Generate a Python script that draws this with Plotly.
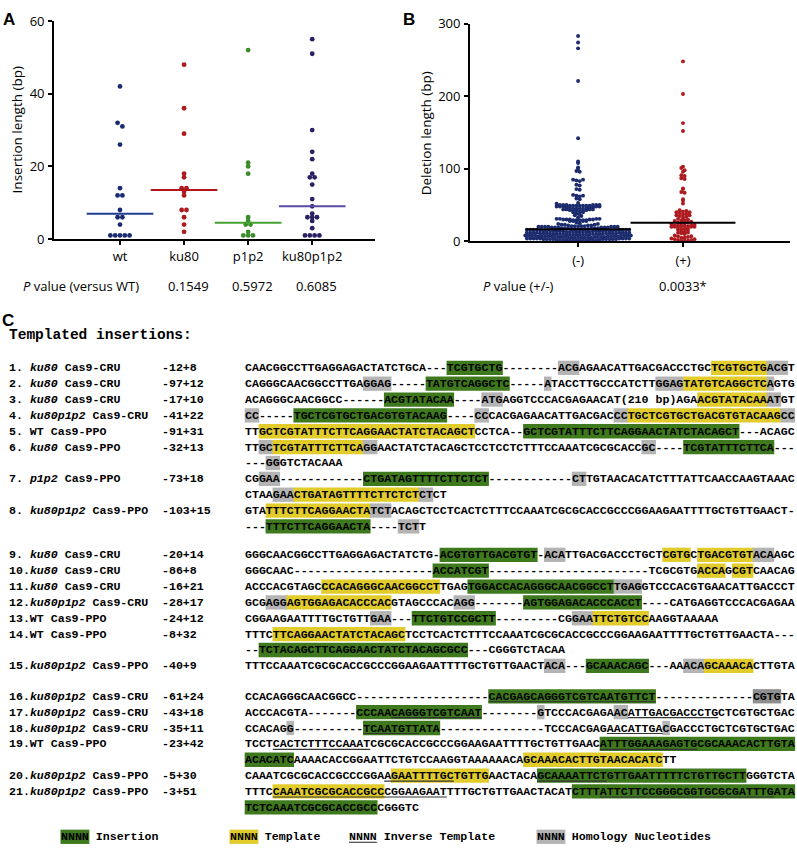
import numpy as np
import plotly.graph_objects as go

W, H = 797, 859

# ---------------- Panel A data: insertion length (bp) ----------------
ins_groups = ["wt", "ku80", "p1p2", "ku80p1p2"]
ins_wt = [42, 32, 31, 26, 14, 12, 12, 8, 6, 6, 4, 1, 1, 1, 1, 1]
ins_ku80 = [48, 36, 29, 18, 17, 14, 14, 13, 12, 8, 8, 6, 4, 2]
ins_p1p2 = [52, 21, 20, 18, 6, 5, 4, 4, 2, 1, 1, 1]
ins_ku80p1p2 = [55, 51, 30, 24, 22, 18, 17, 17, 15, 11, 9, 7, 6, 6, 6, 5, 3, 1, 1, 1, 1]
ins_pvalues = ["", "0.1549", "0.5972", "0.6085"]
ins_ticks = [0, 20, 40, 60]

# ---------------- Panel B data: deletion length (bp) ----------------
del_groups = ["(-)", "(+)"]
del_minus_values = [1, 2, 3, 4, 5, 6, 7, 8, 9, 10, 11, 12, 13, 14, 15, 16,
                    17, 18, 19, 20, 21, 22, 23, 24, 25, 26, 28, 29, 30, 31,
                    33, 35, 36, 37, 38, 40, 41, 42, 43, 44, 45, 46, 47, 48, 49, 50,
                    52, 53, 58, 59, 62, 63, 64, 71, 72, 77, 78, 83, 84, 85,
                    96, 97, 100, 102, 108, 110, 142, 221, 266, 274, 283]
del_minus_counts = [6, 8, 9, 9, 8, 8, 9, 8, 8, 8, 8, 8, 8, 8, 8, 8,
                    6, 6, 6, 7, 5, 3, 3, 2, 1, 1, 4, 5, 5, 4,
                    1, 1, 1, 1, 1, 2, 1, 2, 3, 4, 4, 3, 2, 5, 7, 6,
                    1, 1, 1, 1, 1, 2, 1, 1, 1, 1, 1, 1, 1, 2,
                    1, 1, 1, 1, 1, 1, 1, 1, 1, 1, 1]
del_plus = [248, 203, 163, 152, 103, 101, 98, 96, 91, 90, 87, 86, 73, 72, 68, 67,
            58, 56, 52, 43, 42, 41, 40, 40, 39, 38, 37, 36, 36, 35, 34, 33,
            31, 30, 29, 29, 28, 27, 26, 26, 25, 25, 24, 23, 22, 22, 22, 21, 21, 21,
            20, 20, 20, 20, 19, 18, 17, 17, 16, 15, 14, 13, 12, 12, 11, 10,
            8, 7, 7, 6, 5, 5, 4, 3, 3, 2, 2, 1, 1, 1]
del_pvalue = "0.0033*"
del_ticks = [0, 100, 200, 300]

# ---------------- Panel C data: templated insertions ----------------
c_title = "Templated insertions:"
c_labels = ["1. <i>ku80</i> Cas9-CRU", "2. <i>ku80</i> Cas9-CRU", "3. <i>ku80</i> Cas9-CRU",
            "4. <i>ku80p1p2</i> Cas9-CRU", "5. WT Cas9-PPO", "6. <i>ku80</i> Cas9-PPO",
            "7. <i>p1p2</i> Cas9-PPO", "8. <i>ku80p1p2</i> Cas9-PPO",
            "9. <i>ku80</i> Cas9-CRU", "10.<i>ku80</i> Cas9-CRU", "11.<i>ku80</i> Cas9-CRU",
            "12.<i>ku80p1p2</i> Cas9-CRU", "13.WT Cas9-PPO", "14.WT Cas9-PPO",
            "15.<i>ku80p1p2</i> Cas9-PPO", "16.<i>ku80p1p2</i> Cas9-CRU",
            "17.<i>ku80p1p2</i> Cas9-CRU", "18.<i>ku80p1p2</i> Cas9-CRU",
            "19.WT Cas9-PPO", "20.<i>ku80p1p2</i> Cas9-PPO", "21.<i>ku80p1p2</i> Cas9-PPO"]
c_edits = ["-12+8", "-97+12", "-17+10", "-41+22", "-91+31", "-32+13", "-73+18", "-103+15",
           "-20+14", "-86+8", "-16+21", "-28+17", "-24+12", "-8+32", "-40+9",
           "-61+24", "-43+18", "-35+11", "-23+42", "-5+30", "-3+51"]
# sequence rows: text, highlight spans (g=insertion, y=template, h=homology,
# d=homology dark, u=inverse template underline), label index or None
c_rows = [
    ("CAACGGCCTTGAGGAGACTATCTGCA---TCGTGCTG--------ACGAGAACATTGACGACCCTGCTCGTGCTGACGT",
     "g29-36 h45-47 y67-74 h75-77", 0),
    ("CAGGGCAACGGCCTTGAGGAG-----TATGTCAGGCTC-----ATACCTTGCCCATCTTGGAGTATGTCAGGCTCAGTG",
     "h17-20 g26-37 h43-43 h59-62 y63-74 h75-75", 1),
    ("ACAGGGCAACGGCC------ACGTATACAA----ATGAGGTCCCACGAGAACAT(210 bp)AGAACGTATACAAATGT",
     "g20-29 h34-36 y65-74 h75-76", 2),
    ("CC-----TGCTCGTGCTGACGTGTACAAG----CCCACGAGAACATTGACGACCCTGCTCGTGCTGACGTGTACAAGCC",
     "h0-1 g7-28 h33-34 h53-54 y55-76 h77-78", 3),
    ("TTGCTCGTATTTCTTCAGGAACTATCTACAGCTCCTCA--GCTCGTATTTCTTCAGGAACTATCTACAGCT---ACAGC",
     "y2-32 g40-70", 4),
    ("TTGCTCGTATTTCTTCAGGAACTATCTACAGCTCCTCCTCTTTCCAAATCGCGCACCGC----TCGTATTTCTTCA---",
     "h2-3 y4-16 h17-18 h57-58 g63-75", 5),
    ("---GGGTCTACAAA", "h3-4", None),
    ("CGGAA------------CTGATAGTTTTCTTCTCT------------CTTGTAACACATCTTTATTCAACCAAGTAAAC",
     "h2-4 g17-34 h47-48", 6),
    ("CTAAGAACTGATAGTTTTCTTCTCTCTCT", "h4-6 y7-24 h25-26", None),
    ("GTATTTCTTCAGGAACTATCTACAGCTCCTCACTCTTTCCAAATCGCGCACCGCCCGGAAGAATTTTGCTGTTGAACT-",
     "y3-17 h18-20", 7),
    ("---TTTCTTCAGGAACTA----TCTT", "g3-17 h22-24", None),
    ("GGGCAACGGCCTTGAGGAGACTATCTG-ACGTGTTGACGTGT-ACATTGACGACCCTGCTCGTGCTGACGTGTACAAGC",
     "g28-41 h43-45 y60-63 y65-72 h73-75", 8),
    ("GGGCAAC--------------------ACCATCGT-----------------------TCGCGTGACCAGCGTCAACAG",
     "g27-34 y65-68 y70-72", 9),
    ("ACCCACGTAGCCCACAGGGCAACGGCCTTGAGTGGACCACAGGGCAACGGCCTTGAGGTCCCACGTGAACATTGACCCT",
     "y11-27 g32-52 h53-56", 10),
    ("GCGAGGAGTGGAGACACCCACGTAGCCCACAGG-------AGTGGAGACACCCACCT----CATGAGGTCCCACGAGAA",
     "h3-5 y6-20 h30-32 g40-56", 11),
    ("CGGAAGAATTTTGCTGTTGAA---TTCTGTCCGCTT---------CGGAATTCTGTCCAAGGTAAAAA",
     "h18-20 g24-35 h47-49 y50-57", 12),
    ("TTTCTTCAGGAACTATCTACAGCTCCTCACTCTTTCCAAATCGCGCACCGCCCGGAAGAATTTTGCTGTTGAACTA---",
     "y4-22", 13),
    ("--TCTACAGCTTCAGGAACTATCTACAGCGCC---CGGGTCTACAA", "g2-31", None),
    ("TTTCCAAATCGCGCACCGCCCGGAAGAATTTTGCTGTTGAACTACA---GCAAACAGC---AAACAGCAAACACTTGTA",
     "h43-45 g49-57 h63-65 y66-72", 14),
    ("CCACAGGGCAACGGCC-------------------CACGAGCAGGGTCGTCAATGTTCT--------------CGTGTA",
     "g35-58 u35-58 d73-76", 15),
    ("ACCCACGTA-------CCCAACAGGGTCGTCAAT--------GTCCCACGAGAACATTGACGACCCTGCTCGTGCTGAC",
     "g16-33 u21-33 h42-42 h53-54 u55-67", 16),
    ("CCACAGG----------TCAATGTTATA---------------TCCCACGAGAACATTGACGACCCTGCTCGTGCTGAC",
     "h6-6 g17-27 u17-24 u52-59 h60-60", 17),
    ("TCCTCACTCTTTCCAAATCGCGCACCGCCCGGAAGAATTTTGCTGTTGAACATTTGGAAAGAGTGCGCAAACACTTGTA",
     "u4-17 g51-78 u51-64", 18),
    ("ACACATCAAAACACCGGAATTCTGTCCAAGGTAAAAAACAGCAAACACTTGTAACACATCTT", "g0-6 y40-59", None),
    ("CAAATCGCGCACCGCCCGGAAGAATTTTGCTGTTGAACTACAGCAAAATTCTGTTGAATTTTTCTGTTGCTTGGGTCTA",
     "y21-34 u20-29 g42-71 u42-51", 19),
    ("TTTCCAAATCGCGCACCGCCCGGAAGAATTTTGCTGTTGAACTACATCTTTATTCTTCCGGGCGGTGCGCGATTTGATA",
     "y4-19 u4-28 g47-78 u51-75", 20),
    ("TCTCAAATCGCGCACCGCCCGGGTC", "g0-18", None),
]
c_legend = [("g", "Insertion"), ("y", "Template"), ("u", "Inverse Template"),
            ("h", "Homology Nucleotides")]

# ---------------- layout constants ----------------
row_y = [366.5, 382.7, 398.9, 415.1, 431.3, 447.5, 463.7, 479.9, 496.1, 512.3, 528.5,
         557.5, 573.7, 589.9, 606.1, 622.3, 638.5, 654.7, 670.9,
         702.0, 718.2, 734.4, 750.6, 766.8, 783.0, 799.2, 815.4]
legend_y = 845.5
legend_x = [61, 230, 349, 537]
SEQ_X0, LABEL_X, EDIT_X = 245.0, 9.0, 162.0
CW = 6.96
MONO = "Liberation Mono"
FS = CW / 0.6
SANS = "Open Sans"
TXT = 13

HL = {"g": "#3e7a1d", "y": "#e1cc2c", "h": "#b4b4b4", "d": "#8e8e8e"}


def px(x):
    return x / W


def py(y):
    return 1 - y / H


def row_offsets(vals, px_per_val, row_px, step_px):
    vals = np.asarray(vals, dtype=float)
    order = np.argsort(vals, kind="stable")
    rows = np.floor(vals * px_per_val / row_px).astype(int)
    off = np.zeros(len(vals))
    for r in np.unique(rows):
        idx = [i for i in order if rows[i] == r]
        n = len(idx)
        c = (n - 1) / 2
        slots = sorted(range(n), key=lambda k: (abs(k - c), -k))
        for rank, i in enumerate(idx):
            off[i] = (slots[rank] - c) * step_px
    return off


fig = go.Figure()

# ---------- Panel A ----------
A_L, A_R, A_B, A_T = 54.0, 375.0, 235.0, 12.3
A_XR = [-1.03, 3.98]
A_ppu_x = (A_R - A_L) / (A_XR[1] - A_XR[0])
A_ppu_y = (A_B - A_T) / 60.0
ins_data = [ins_wt, ins_ku80, ins_p1p2, ins_ku80p1p2]
ins_pt_col = ["#1b2b6e", "#ad1a1f", "#3b8c2b", "#2a2163"]
ins_ln_col = ["#213e8e", "#b3141b", "#45a032", "#5a4aa3"]
for i, vals in enumerate(ins_data):
    off = row_offsets(vals, A_ppu_y, 5.0, 4.8) / A_ppu_x
    fig.add_trace(go.Scatter(x=i + off, y=vals, mode="markers", xaxis="x", yaxis="y",
                             marker=dict(size=4.8, color=ins_pt_col[i]), cliponaxis=False,
                             hoverinfo="y"))
    med = float(np.median(vals))
    fig.add_trace(go.Scatter(x=[i - 0.52, i + 0.52], y=[med, med], mode="lines",
                             xaxis="x", yaxis="y", line=dict(color=ins_ln_col[i], width=2),
                             cliponaxis=False, hoverinfo="skip"))

# ---------- Panel B ----------
B_L, B_R, B_B, B_T = 470.0, 790.0, 237.3, 15.0
B_XR = [-1.03, 2.02]
B_ppu_x = (B_R - B_L) / (B_XR[1] - B_XR[0])
B_ppu_y = (B_B - B_T) / 300.0
del_minus = np.repeat(del_minus_values, del_minus_counts)
del_data = [del_minus, del_plus]
del_col = ["#1b2b6e", "#ad1a1f"]
for i, vals in enumerate(del_data):
    off = row_offsets(vals, B_ppu_y, 3.0, 3.3) / B_ppu_x
    fig.add_trace(go.Scatter(x=i + off, y=vals, mode="markers", xaxis="x2", yaxis="y2",
                             marker=dict(size=3.9, color=del_col[i]), cliponaxis=False,
                             hoverinfo="y"))
    med = float(np.median(vals))
    fig.add_trace(go.Scatter(x=[i - 0.5, i + 0.5], y=[med, med], mode="lines",
                             xaxis="x2", yaxis="y2", line=dict(color="black", width=2),
                             cliponaxis=False, hoverinfo="skip"))

axis_common = dict(showline=True, linecolor="black", linewidth=1.8, ticks="outside",
                   ticklen=4, tickwidth=1.5, tickcolor="black", showgrid=False,
                   zeroline=False, tickfont=dict(family=SANS, size=TXT, color="black"),
                   fixedrange=True)

annotations = []
shapes = []


def add_text(x, y, text, size, family=SANS, xanchor="left", angle=0, color="black"):
    annotations.append(dict(x=px(x), y=py(y), xref="paper", yref="paper", text=text,
                            showarrow=False, xanchor=xanchor, yanchor="middle",
                            textangle=angle, borderpad=0, borderwidth=0,
                            font=dict(family=family, size=size, color=color)))


# panel letters
add_text(3, 11, "<b>A</b>", 17, family="Liberation Sans")
add_text(403, 11, "<b>B</b>", 17, family="Liberation Sans")
add_text(2, 318, "<b>C</b>", 17, family="Liberation Sans")

# axis titles
add_text(17, 124, "Insertion length (bp)", 13.5, xanchor="center", angle=-90)
add_text(426, 127, "Deletion length (bp)", 13.5, xanchor="center", angle=-90)

# p-value rows
add_text(23, 283, "<i>P</i> value (versus WT)", TXT)
for i, p in enumerate(ins_pvalues):
    if p:
        add_text(A_L + (i - A_XR[0]) * A_ppu_x + 4, 283, p, TXT, xanchor="center")
add_text(483, 283, "<i>P</i> value (+/-)", TXT)
add_text(B_L + (1 - B_XR[0]) * B_ppu_x, 283, del_pvalue, TXT, xanchor="center")

# ---------- Panel C ----------
add_text(LABEL_X, 333, "<b>" + c_title + "</b>", 14.5, family=MONO)


def add_span(kind, a, b, yc):
    x0 = SEQ_X0 + a * CW
    x1 = SEQ_X0 + (b + 1) * CW
    if kind == "u":
        shapes.append(dict(type="line", xref="paper", yref="paper", x0=px(x0), x1=px(x1),
                           y0=py(yc + 5.6), y1=py(yc + 5.6),
                           line=dict(color="#333", width=1.1), layer="above"))
    else:
        shapes.append(dict(type="rect", xref="paper", yref="paper", x0=px(x0 - 0.3),
                           x1=px(x1 + 0.3), y0=py(yc + 7.3), y1=py(yc - 7.3),
                           fillcolor=HL[kind], line=dict(width=0), layer="below"))


for (seq, spans, lab), yc in zip(c_rows, row_y):
    for tok in spans.split():
        kind = tok[0]
        a, b = [int(v) for v in tok[1:].split("-")]
        add_span(kind, a, b, yc)
    add_text(SEQ_X0, yc, "<b>" + seq + "</b>", FS, family=MONO)
    if lab is not None:
        add_text(LABEL_X, yc, "<b>" + c_labels[lab] + "</b>", FS, family=MONO)
        add_text(EDIT_X, yc, "<b>" + c_edits[lab] + "</b>", FS, family=MONO)

for (kind, label), lx in zip(c_legend, legend_x):
    x0, x1 = lx, lx + 4 * CW
    if kind == "u":
        shapes.append(dict(type="line", xref="paper", yref="paper", x0=px(x0), x1=px(x1),
                           y0=py(legend_y + 5.6), y1=py(legend_y + 5.6),
                           line=dict(color="#333", width=1.1)))
    else:
        shapes.append(dict(type="rect", xref="paper", yref="paper", x0=px(x0 - 0.5),
                           x1=px(x1 + 0.5), y0=py(legend_y + 7.3), y1=py(legend_y - 7.3),
                           fillcolor=HL[kind], line=dict(width=0), layer="below"))
    add_text(lx, legend_y, "<b>NNNN " + label + "</b>", FS, family=MONO)

fig.update_layout(
    width=W, height=H, margin=dict(l=0, r=0, t=0, b=0),
    paper_bgcolor="white", plot_bgcolor="white", showlegend=False,
    xaxis=dict(domain=[px(A_L), px(A_R)], range=A_XR, tickvals=list(range(4)),
               ticktext=ins_groups, anchor="y", ticklabelstandoff=0, **axis_common),
    yaxis=dict(domain=[py(A_B), py(A_T)], range=[0, 60], tickvals=ins_ticks, anchor="x",
               ticklabelstandoff=1, **axis_common),
    xaxis2=dict(domain=[px(B_L), px(B_R)], range=B_XR, tickvals=[0, 1],
                ticktext=del_groups, anchor="y2", ticklabelstandoff=2, **axis_common),
    yaxis2=dict(domain=[py(B_B), py(B_T)], range=[0, 300], tickvals=del_ticks,
                anchor="x2", ticklabelstandoff=1, **axis_common),
    annotations=annotations, shapes=shapes,
)

fig.write_html(
    "out.html",
    config={"displayModeBar": False},
    post_script="document.body.style.margin='0';document.body.style.overflow='hidden';"
                "document.documentElement.style.overflow='hidden';",
)
